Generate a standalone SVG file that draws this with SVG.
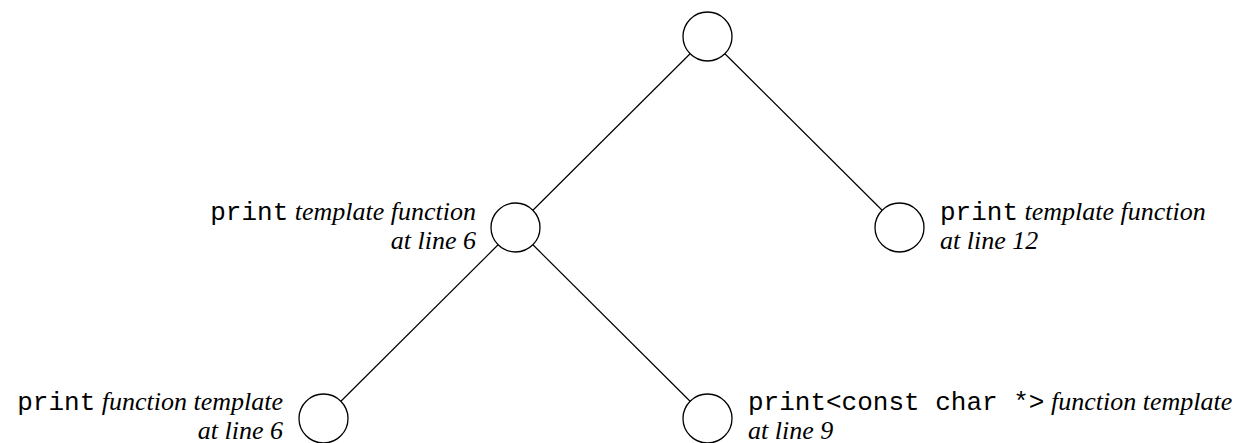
<svg xmlns="http://www.w3.org/2000/svg" width="1254" height="443" viewBox="0 0 1254 443">
<style>
.node{fill:#fff;stroke:#000;stroke-width:1.3}
.edge{stroke:#000;stroke-width:1.2;fill:none}
text{font-size:26px;fill:#000}
.m{font-family:"Liberation Mono","Courier New",monospace}
.i{font-family:"Liberation Serif","Times New Roman",serif;font-style:italic}
</style>
<rect width="1254" height="443" fill="#fff"/>
<g id="connectors">
<line class="edge" x1="690.1" y1="53.8" x2="532.9" y2="210.2"/>
<line class="edge" x1="724.9" y1="53.8" x2="882.1" y2="210.2"/>
<line class="edge" x1="498.1" y1="244.8" x2="340.9" y2="401.2"/>
<line class="edge" x1="532.9" y1="244.8" x2="690.1" y2="401.2"/>
</g>
<g id="root">
<circle class="node" cx="707.5" cy="36.5" r="24.5"/>
</g>
<g id="mid-left">
<circle class="node" cx="515.5" cy="227.5" r="24.5"/>
<text x="476" y="220" text-anchor="end"><tspan class="m">print</tspan><tspan class="i"> template function</tspan></text>
<text class="i" x="476" y="249" text-anchor="end">at line 6</text>
</g>
<g id="right">
<circle class="node" cx="899.5" cy="227.5" r="24.5"/>
<text x="940" y="220"><tspan class="m">print</tspan><tspan class="i"> template function</tspan></text>
<text class="i" x="940" y="249">at line 12</text>
</g>
<g id="bottom-left">
<circle class="node" cx="323.5" cy="418.5" r="24.5"/>
<text x="283" y="410" text-anchor="end"><tspan class="m">print</tspan><tspan class="i"> function template</tspan></text>
<text class="i" x="283" y="439" text-anchor="end">at line 6</text>
</g>
<g id="bottom-right">
<circle class="node" cx="707.5" cy="418.5" r="24.5"/>
<text x="748" y="410"><tspan class="m">print&lt;const char *&gt;</tspan><tspan class="i"> function template</tspan></text>
<text class="i" x="748" y="439">at line 9</text>
</g>
</svg>
